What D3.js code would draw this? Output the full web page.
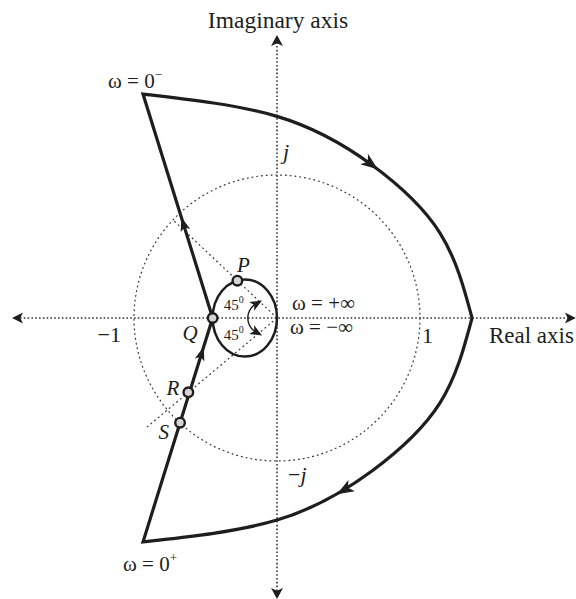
<!DOCTYPE html>
<html>
<head>
<meta charset="utf-8">
<script src="https://cdn.jsdelivr.net/npm/d3@7"></script>
<style>
  body { margin: 0; background: #fff; }
  svg { display: block; }
</style>
</head>
<body>
<div id="chart"></div>
<script>
// all values in units of the unit circle (complex plane)
var cornerNeg = [-0.937, 1.566];   // omega = 0-
var cornerPos = [-0.937, -1.566];  // omega = 0+
var upperArc = [[-0.937, 1.566], [0, 1.41], [0.664, 1.070], [1.140, 0.594], [1.364, 0]];
var lowerArc = [[1.364, 0], [1.140, -0.594], [0.664, -1.070], [0, -1.413], [-0.937, -1.566]];
var arcArrowTips = [[0.699, 1.035], [0.417, -1.226]];
var lineArrowT = [0.45, 0.872];     // fraction along Q -> 0-, and 0+ -> Q

var loopCenter = [-0.225, 0];
var loopRadii = [0.225, 0.27];

var pointNames = ['P', 'Q', 'R', 'S'];
var pointValues = [[-0.277, 0.261], [-0.450, 0], [-0.620, -0.520], [-0.678, -0.732]];

var guideLines = [[[0, 0], [-0.728, 0.686]], [[0, 0], [-0.919, -0.771]]];
var angleArcCenter = [-0.09, 0], angleArcRadius = 0.114, angleArcSpan = [120, 240];
var angleText = '45', angleSup = '0';

var axisXExtent = [-1.853, 2.09];
var axisYExtent = [-1.965, 1.979];
var realTicks = [-1, 1], realTickLabels = ['\u22121', '1'];
var imagTickLabels = ['j', 'j'], imagTickPrefix = ['', '\u2212'];
var omegaInf = ['\u03c9 = +\u221e', '\u03c9 = \u2212\u221e'];
var omegaZero = ['\u03c9 = 0', '\u03c9 = 0'], omegaZeroSup = ['\u2212', '+'];
var axisTitles = ['Real axis', 'Imaginary axis'];

var W = 576, H = 599;
var serif = '"Liberation Serif", "Times New Roman", serif';
var ink = '#1e1e1e';

var x = d3.scaleLinear().domain([-1, 1]).range([134, 420]);
var y = d3.scaleLinear().domain([-1, 1]).range([461, 175]);
var unit = x(1) - x(0);

var svg = d3.select('#chart').append('svg')
  .attr('width', W).attr('height', H)
  .style('font-family', serif);

function arrowHead(g, px, py, ang, L, w) {
  g.append('path')
    .attr('d', 'M0,0L' + (-L) + ',' + (-w / 2) + 'L' + (-0.75 * L) + ',0L' + (-L) + ',' + (w / 2) + 'Z')
    .attr('transform', 'translate(' + px + ',' + py + ') rotate(' + (ang * 180 / Math.PI) + ')')
    .attr('fill', ink);
}

//############ axes ############
var axes = svg.append('g');
var ox = x(0), oy = y(0);
axes.append('line')
  .attr('x1', x(axisXExtent[0]) + 8).attr('x2', x(axisXExtent[1]) - 8)
  .attr('y1', oy).attr('y2', oy);
axes.append('line')
  .attr('x1', ox).attr('x2', ox)
  .attr('y1', y(axisYExtent[0]) - 8).attr('y2', y(axisYExtent[1]) + 8);
axes.selectAll('line')
  .attr('stroke', '#333').attr('stroke-width', 1.6).attr('stroke-dasharray', '1.6,2.2');
arrowHead(axes, x(axisXExtent[0]), oy, Math.PI, 11, 11);
arrowHead(axes, x(axisXExtent[1]), oy, 0, 11, 11);
arrowHead(axes, ox, y(axisYExtent[1]), -Math.PI / 2, 11, 12);
arrowHead(axes, ox, y(axisYExtent[0]), Math.PI / 2, 11, 12);

// unit circle
svg.append('circle')
  .attr('cx', ox).attr('cy', oy).attr('r', unit)
  .attr('fill', 'none').attr('stroke', '#333')
  .attr('stroke-width', 1.2).attr('stroke-dasharray', '1.8,3');

// guide lines
svg.selectAll('.guide').data(guideLines).enter().append('line')
  .attr('class', 'guide')
  .attr('x1', d => x(d[0][0])).attr('y1', d => y(d[0][1]))
  .attr('x2', d => x(d[1][0])).attr('y2', d => y(d[1][1]))
  .attr('stroke', '#333').attr('stroke-width', 1.2).attr('stroke-dasharray', '1.8,3');

//############ contour ############
var lineGen = d3.line().x(d => x(d[0])).y(d => y(d[1]));
var curveGen = d3.line().x(d => x(d[0])).y(d => y(d[1])).curve(d3.curveNatural);
var stripMove = s => s.replace(/^M[^CLZ]*/, '');
var Q = pointValues[1];

var contourD = lineGen([cornerPos, Q, cornerNeg]) + stripMove(curveGen(upperArc)) + stripMove(curveGen(lowerArc)) + 'Z';
svg.append('path')
  .attr('d', contourD)
  .attr('fill', 'none').attr('stroke', ink).attr('stroke-width', 3.2)
  .attr('stroke-linejoin', 'miter').attr('stroke-miterlimit', 10);

// arrows on arcs
var helper = svg.append('g');
[upperArc, lowerArc].forEach(function (arc, i) {
  var node = helper.append('path').attr('d', curveGen(arc)).attr('fill', 'none').node();
  var total = node.getTotalLength(), best = 0, bestD = 1e9;
  var tx = x(arcArrowTips[i][0]), ty = y(arcArrowTips[i][1]);
  for (var l = 0; l <= total; l += 0.5) {
    var p = node.getPointAtLength(l);
    var dd = (p.x - tx) * (p.x - tx) + (p.y - ty) * (p.y - ty);
    if (dd < bestD) { bestD = dd; best = l; }
  }
  var p0 = node.getPointAtLength(Math.max(0, best - 3)), p1 = node.getPointAtLength(Math.min(total, best + 3));
  var pc = node.getPointAtLength(best);
  arrowHead(svg, pc.x, pc.y, Math.atan2(p1.y - p0.y, p1.x - p0.x), 17, 13);
});
helper.remove();

// arrows on the straight segments
[[Q, cornerNeg], [cornerPos, Q]].forEach(function (seg, i) {
  var a = [x(seg[0][0]), y(seg[0][1])], b = [x(seg[1][0]), y(seg[1][1])];
  var t = lineArrowT[i];
  arrowHead(svg, a[0] + (b[0] - a[0]) * t, a[1] + (b[1] - a[1]) * t,
    Math.atan2(b[1] - a[1], b[0] - a[0]), 14, 10);
});

// small loop
svg.append('ellipse')
  .attr('cx', x(loopCenter[0])).attr('cy', y(loopCenter[1]))
  .attr('rx', loopRadii[0] * unit).attr('ry', loopRadii[1] * unit)
  .attr('fill', 'none').attr('stroke', ink).attr('stroke-width', 2.5);

// angle arc with arrows at both ends
var acx = x(angleArcCenter[0]), acy = y(angleArcCenter[1]), ar = angleArcRadius * unit;
var pts = d3.range(angleArcSpan[0], angleArcSpan[1] + 0.1, 5).map(function (deg) {
  var r = deg * Math.PI / 180;
  return [acx + ar * Math.cos(r), acy - ar * Math.sin(r)];
});
svg.append('path').attr('d', d3.line()(pts))
  .attr('fill', 'none').attr('stroke', ink).attr('stroke-width', 1.4);
[angleArcSpan[0], angleArcSpan[1]].forEach(function (deg, i) {
  var r = deg * Math.PI / 180;
  var px = acx + ar * Math.cos(r), py = acy - ar * Math.sin(r);
  var dx = i === 0 ? Math.sin(r) : -Math.sin(r);
  var dy = i === 0 ? Math.cos(r) : -Math.cos(r);
  arrowHead(svg, px + dx * 7, py + dy * 7, Math.atan2(dy, dx), 12, 10);
});

// marked points
svg.selectAll('.pt').data(pointValues).enter().append('circle')
  .attr('class', 'pt')
  .attr('cx', d => x(d[0])).attr('cy', d => y(d[1])).attr('r', 4.8)
  .attr('fill', '#d4d4d4').attr('stroke', ink).attr('stroke-width', 2.4);

//############ text ############
var txt = svg.append('g').attr('fill', ink);

function label(t, px, py, size, anchor, italic) {
  return txt.append('text').attr('x', px).attr('y', py)
    .attr('font-size', size).attr('text-anchor', anchor || 'start')
    .attr('font-style', italic ? 'italic' : 'normal').text(t);
}

label(axisTitles[1], ox + 1, 28, 23.5, 'middle');
label(axisTitles[0], x(axisXExtent[1]) - 2, oy + 25, 23, 'end');
label(realTickLabels[0], x(realTicks[0]) - 13, oy + 24, 22, 'end');
label(realTickLabels[1], x(realTicks[1]) + 2, oy + 25, 22, 'start');
label(imagTickLabels[0], ox + 6, y(1) - 16, 22, 'start', true);
var mj = label(imagTickPrefix[1], ox + 11, y(-1) + 21, 22, 'start');
mj.append('tspan').attr('font-style', 'italic').text(imagTickLabels[1]);
label(omegaInf[0], ox + 15, oy - 8, 21, 'start');
label(omegaInf[1], ox + 13, oy + 16, 21, 'start');

// P Q R S
var nameOffsets = [[6, -9, 'middle'], [-15, 22, 'end'], [-9, 3, 'end'], [-11, 16, 'end']];
pointNames.forEach(function (n, i) {
  var o = nameOffsets[i];
  label(n, x(pointValues[i][0]) + o[0], y(pointValues[i][1]) + o[1], 21, o[2], true);
});

// omega = 0- / 0+
[[cornerNeg, -35, -6], [cornerPos, -20, 29]].forEach(function (c, i) {
  var t = label(omegaZero[i], x(c[0][0]) + c[1], y(c[0][1]) + c[2], 21, 'start');
  t.append('tspan').attr('font-size', 13).attr('dy', -9).text(omegaZeroSup[i]);
});

// 45 degree labels
[oy - 8, oy + 22].forEach(function (by) {
  var t = label(angleText, x(loopCenter[0]) - 21, by, 15, 'start');
  t.append('tspan').attr('font-size', 10).attr('dy', -7).text(angleSup);
});
</script>
</body>
</html>
